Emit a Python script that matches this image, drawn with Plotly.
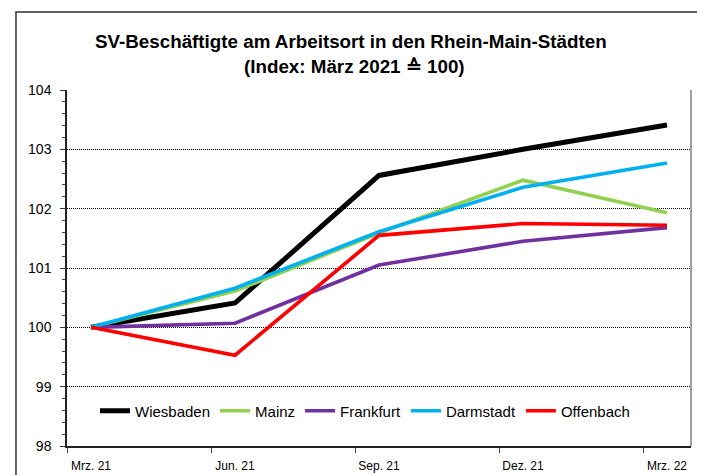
import plotly.graph_objects as go

# ---- data ----
categories = ["Mrz. 21", "Jun. 21", "Sep. 21", "Dez. 21", "Mrz. 22"]
months_between = 3  # quarterly observations on a monthly time axis
wiesbaden = [100.0, 100.41, 102.56, 103.00, 103.41]
mainz = [100.0, 100.61, 101.59, 102.48, 101.93]
frankfurt = [100.0, 100.07, 101.05, 101.45, 101.68]
darmstadt = [100.0, 100.66, 101.61, 102.36, 102.77]
offenbach = [100.0, 99.53, 101.55, 101.75, 101.72]
y_ticks = [98, 99, 100, 101, 102, 103, 104]
title_lines = ["SV-Beschäftigte am Arbeitsort in den Rhein-Main-Städten",
               "(Index: März 2021 ≙ 100)"]

series = [
    ("Wiesbaden", wiesbaden, "#000000", 5),
    ("Mainz", mainz, "#92D050", 3.6),
    ("Frankfurt", frankfurt, "#7030A0", 3.6),
    ("Darmstadt", darmstadt, "#00B0F0", 3.6),
    ("Offenbach", offenbach, "#FF0000", 3.6),
]

xpos = [i * months_between for i in range(len(categories))]
slot_bounds = [p - 0.5 for p in xpos]

FONT = "Liberation Sans, Arial, sans-serif"

fig = go.Figure()
for name, vals, color, w in series:
    fig.add_trace(go.Scatter(
        x=xpos, y=vals, name=name, mode="lines",
        line=dict(color=color, width=w),
    ))

# page places the figure 8px in from the top-left (default body margin)
OFF = 8
W, H = 705, 475
PL, PR, PT, PB = 67, 690.7, 90, 446  # wanted plot box in window pixels
ml = PL - OFF
mt = PT - OFF
mr = W - (PR - OFF)
mb = H - (PB - OFF)
pw = W - ml - mr
ph = H - mt - mb

def px_x(px):
    return (px - OFF - ml) / pw

def px_y(py):
    return (H - mb - (py - OFF)) / ph

fig.update_layout(
    width=W, height=H,
    margin=dict(l=ml, r=mr, t=mt, b=mb, autoexpand=False),
    paper_bgcolor="white", plot_bgcolor="white",
    font=dict(family=FONT, color="#000000"),
    showlegend=True,
    legend=dict(
        orientation="h", x=px_x(95), xanchor="left",
        y=px_y(411), yanchor="middle",
        font=dict(family=FONT, size=15, color="#000000"),
        bgcolor="rgba(0,0,0,0)", borderwidth=0,
        traceorder="normal",
    ),
    xaxis=dict(
        range=[xpos[0] - 0.5, xpos[-1] + 0.5],
        tickvals=xpos, ticktext=categories,
        ticks="outside", ticklen=8, tickcolor="rgba(0,0,0,0)",
        tickfont=dict(family=FONT, size=12, color="#000000"),
        showgrid=False, zeroline=False, automargin=False,
        showline=True, linecolor="#222222", linewidth=1.5,
        minor=dict(tickmode="array", tickvals=slot_bounds, ticks="outside",
                   ticklen=5, tickwidth=1, tickcolor="#444444", showgrid=False),
        fixedrange=True,
    ),
    yaxis=dict(
        range=[y_ticks[0], y_ticks[-1]],
        tickvals=y_ticks,
        ticks="outside", ticklen=5, tickwidth=1, tickcolor="#333333",
        tickfont=dict(family=FONT, size=14, color="#000000"),
        ticklabelstandoff=6,
        showgrid=True, gridcolor="#000000", gridwidth=1, griddash="1px,1px",
        zeroline=False, automargin=False,
        showline=True, linecolor="#222222", linewidth=1.5,
        minor=dict(dtick=0.2, ticks="outside", ticklen=3, tickwidth=1,
                   tickcolor="#444444", showgrid=False),
        fixedrange=True,
    ),
    annotations=[
        dict(text="<b>" + title_lines[0] + "</b>", xref="paper", yref="paper",
             x=px_x(351), y=px_y(42), xanchor="center", yanchor="middle",
             showarrow=False, font=dict(family=FONT, size=18.8, color="#000000")),
        dict(text="<b>" + title_lines[1] + "</b>", xref="paper", yref="paper",
             x=px_x(354), y=px_y(66), xanchor="center", yanchor="middle",
             showarrow=False, font=dict(family=FONT, size=18.8, color="#000000")),
    ],
    shapes=[
        # right edge of plot area
        dict(type="line", xref="paper", yref="paper", x0=1, x1=1, y0=0, y1=1,
             line=dict(color="#808080", width=1.5)),
        # outer chart border (right/bottom run past the visible window)
        dict(type="rect", xref="paper", yref="paper",
             x0=px_x(16), x1=px_x(760), y0=px_y(520), y1=px_y(12),
             line=dict(color="#333333", width=1.5), fillcolor="rgba(0,0,0,0)",
             layer="below"),
    ],
)

fig.write_html("out.html")
